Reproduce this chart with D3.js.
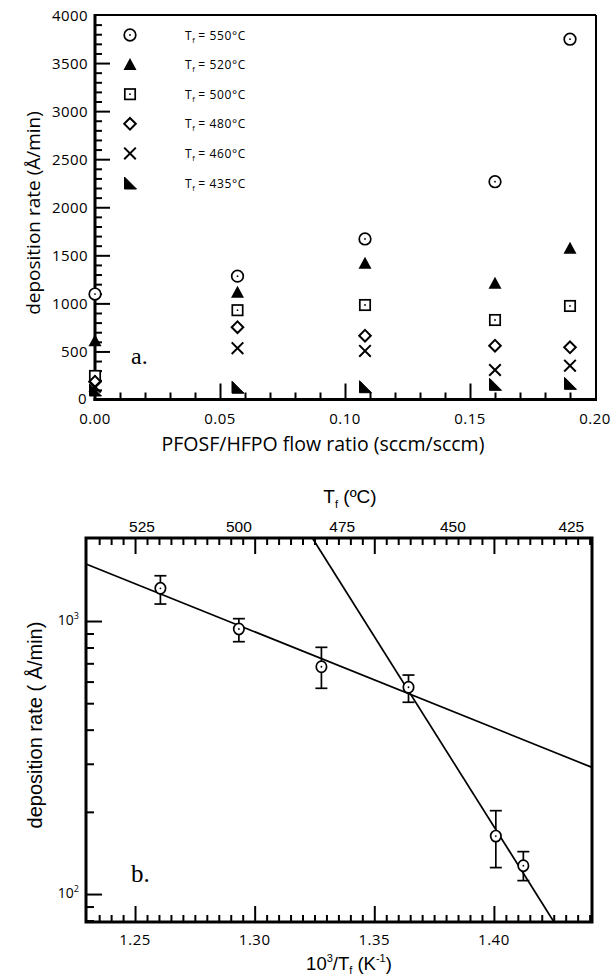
<!DOCTYPE html>
<html><head><meta charset="utf-8">
<script src="https://cdn.jsdelivr.net/npm/d3@7"></script>
<style>body{margin:0;background:#fff}svg{display:block}.ax path.domain{display:none}.ax line{stroke:#000;stroke-width:2px}</style>
</head><body>
<svg id="c" width="616" height="978"></svg>
<script>
// ---------- Panel a data ----------
const flowRatio = [0, 0.057, 0.108, 0.16, 0.19];
const tempLabels = ["550", "520", "500", "480", "460", "435"];
const rate550 = [1097, 1283, 1670, 2266, 3748];
const rate520 = [612, 1117, 1417, 1209, 1573];
const rate500 = [245, 929, 983, 827, 973];
const rate480 = [185, 752, 664, 560, 543];
const rate460 = [133, 534, 505, 307, 352];
const rate435 = [99, 128, 133, 158, 168];
const xTicksA = [0, 0.05, 0.10, 0.15, 0.20];
const yTicksA = [0, 500, 1000, 1500, 2000, 2500, 3000, 3500, 4000];

// ---------- Panel b data ----------
const invT = [1.2606, 1.2934, 1.3279, 1.3643, 1.4008, 1.4123];
const rateB = [1318, 935, 680, 572, 163, 127];
const errHi = [1465, 1020, 801, 634, 202, 143];
const errLo = [1154, 840, 567, 504, 125, 112];
const fitA = [[1.2295, 1618], [1.441, 291]];
const fitB = [[1.3241, 2014], [1.4251, 79]];
const xTicksB = [1.25, 1.30, 1.35, 1.40];
const tempTicks = [525, 500, 475, 450, 425];

const svg = d3.select("#c");
const K = 273.15;
const fA = "'Open Sans', sans-serif";
const fB = "'Liberation Sans', Arial, sans-serif";

// ================= Panel a =================
const A = {l: 95, r: 596, t: 15, b: 399.5};
const xA = d3.scaleLinear().domain([0, 0.2]).range([A.l, 595]);
const yA = d3.scaleLinear().domain([0, 4000]).range([A.b, A.t]);
const gA = svg.append("g");

// inward ticks through d3 axes
const minorXA = d3.range(1, 20).map(k => k / 100).filter(d => Math.abs(d * 20 - Math.round(d * 20)) > 1e-6);
const majorXA = [0.05, 0.10, 0.15];
gA.append("g").attr("class", "ax").attr("transform", `translate(0,${A.b})`)
  .call(d3.axisBottom(xA).tickValues(minorXA).tickSize(-7).tickFormat(""));
gA.append("g").attr("class", "ax").attr("transform", `translate(0,${A.b})`)
  .call(d3.axisBottom(xA).tickValues(majorXA).tickSize(-16).tickFormat(""));
const minorYA = d3.range(1, 40).map(k => k * 100).filter(d => d % 500 !== 0);
const majorYA = d3.range(1, 8).map(k => k * 500);
gA.append("g").attr("class", "ax").attr("transform", `translate(${A.l},0)`)
  .call(d3.axisLeft(yA).tickValues(minorYA).tickSize(-7).tickFormat(""));
gA.append("g").attr("class", "ax").attr("transform", `translate(${A.l},0)`)
  .call(d3.axisLeft(yA).tickValues(majorYA).tickSize(-15).tickFormat(""));

// frame
gA.append("line").attr("x1", A.l).attr("x2", A.r).attr("y1", A.t).attr("y2", A.t).attr("stroke", "#000").attr("stroke-width", 2.2);
gA.append("line").attr("x1", A.r).attr("x2", A.r).attr("y1", A.t).attr("y2", A.b).attr("stroke", "#000").attr("stroke-width", 2);
gA.append("line").attr("x1", A.l).attr("x2", A.l).attr("y1", A.t - 1).attr("y2", A.b + 1.5).attr("stroke", "#000").attr("stroke-width", 3);
gA.append("line").attr("x1", A.l - 1.5).attr("x2", A.r + 1).attr("y1", A.b).attr("y2", A.b).attr("stroke", "#000").attr("stroke-width", 3);

// tick labels
gA.selectAll("text.xl").data(xTicksA).join("text").attr("class", "xl")
  .attr("x", d => xA(d)).attr("y", 424).attr("text-anchor", "middle")
  .attr("font-family", fA).attr("font-size", 15).attr("letter-spacing", 0.4)
  .text(d => d.toFixed(2));
gA.selectAll("text.yl").data(yTicksA).join("text").attr("class", "yl")
  .attr("x", d => d === 0 ? 87 : 88).attr("y", d => yA(d) + 5.5 - (d === 0 ? 1 : 0)).attr("text-anchor", "end")
  .attr("font-family", fA).attr("font-size", 15).attr("letter-spacing", 0.4)
  .text(d => d);

gA.append("text").attr("x", 323).attr("y", 451).attr("text-anchor", "middle")
  .attr("font-family", fA).attr("font-size", 19.5).text("PFOSF/HFPO flow ratio (sccm/sccm)");
gA.append("text").attr("transform", "translate(40,213) rotate(-90)").attr("text-anchor", "middle")
  .attr("font-family", fA).attr("font-size", 19).text("deposition rate (Å/min)");
gA.append("text").attr("x", 131).attr("y", 364).attr("font-family", "'Liberation Serif', serif")
  .attr("font-size", 24).text("a.");

// markers
function marker(g, type) {
  const sw = 1.7;
  if (type === 0) {
    g.append("circle").attr("r", 5.8).attr("fill", "#fff").attr("stroke", "#000").attr("stroke-width", sw);
    g.append("circle").attr("r", 0.9).attr("fill", "#000");
  } else if (type === 1) {
    g.append("path").attr("d", "M0,-6.5L6.5,5.5L-6.5,5.5Z").attr("fill", "#000");
  } else if (type === 2) {
    g.append("rect").attr("x", -5.2).attr("y", -5.2).attr("width", 10.4).attr("height", 10.4)
      .attr("fill", "#fff").attr("stroke", "#000").attr("stroke-width", sw);
    g.append("circle").attr("r", 0.9).attr("fill", "#000");
  } else if (type === 3) {
    g.append("path").attr("d", "M0,-5.8L5.8,0L0,5.8L-5.8,0Z").attr("fill", "#fff").attr("stroke", "#000").attr("stroke-width", 2);
  } else if (type === 4) {
    g.append("path").attr("d", "M-5.8,-5.8L5.8,5.8M5.8,-5.8L-5.8,5.8").attr("stroke", "#000").attr("stroke-width", 2);
  } else {
    g.append("path").attr("d", "M-5.5,-6L-5.5,6L6.5,6Z").attr("fill", "#000").attr("stroke", "#000").attr("stroke-width", 1);
  }
}
const seriesA = [rate550, rate520, rate500, rate480, rate460, rate435];
seriesA.forEach((vals, si) => {
  vals.forEach((v, i) => {
    const g = gA.append("g").attr("transform", `translate(${xA(flowRatio[i])},${yA(v)})`);
    marker(g, si);
  });
});

// legend
tempLabels.forEach((t, i) => {
  const y = 35 + i * 29.6;
  marker(gA.append("g").attr("transform", `translate(130,${y})`), i);
  const tx = gA.append("text").attr("x", 185).attr("y", y + 4.5)
    .attr("font-family", fA).attr("font-size", 12).attr("letter-spacing", 0.6);
  tx.append("tspan").text("T");
  tx.append("tspan").attr("font-size", 7.5).attr("dy", 3).text("f");
  tx.append("tspan").attr("dy", -3).attr("dx", 3).text("= " + t + "°C");
});

// ================= Panel b =================
const B = {l: 86, r: 592, t: 538, b: 922};
const xB = d3.scaleLinear().domain([1.2295, 1.441]).range([B.l, B.r]);
const yB = d3.scaleLog().domain([79, 2014]).range([B.b, B.t]);
const gB = svg.append("g");

const allXB = d3.range(247, 289).map(k => k / 200);
const majorXB = allXB.filter(d => Math.abs(d * 20 - Math.round(d * 20)) < 1e-6);
const minorXB = allXB.filter(d => Math.abs(d * 20 - Math.round(d * 20)) >= 1e-6);
gB.append("g").attr("class", "ax").attr("transform", `translate(0,${B.b})`)
  .call(d3.axisBottom(xB).tickValues(minorXB).tickSize(-7).tickFormat(""));
gB.append("g").attr("class", "ax").attr("transform", `translate(0,${B.b})`)
  .call(d3.axisBottom(xB).tickValues(majorXB).tickSize(-16).tickFormat(""));
gB.append("g").attr("class", "ax").attr("transform", `translate(0,${B.t})`)
  .call(d3.axisTop(xB).tickValues(minorXB).tickSize(-7).tickFormat(""));
gB.append("g").attr("class", "ax").attr("transform", `translate(0,${B.t})`)
  .call(d3.axisTop(xB).tickValues(majorXB).tickSize(-16).tickFormat(""));
const yMinorB = [80, 90, 200, 300, 400, 500, 600, 700, 800, 900];
gB.append("g").attr("class", "ax").attr("transform", `translate(${B.l},0)`)
  .call(d3.axisLeft(yB).tickValues(yMinorB).tickSize(-8).tickFormat(""));
gB.append("g").attr("class", "ax").attr("transform", `translate(${B.l},0)`)
  .call(d3.axisLeft(yB).tickValues([100, 1000]).tickSize(-16).tickFormat(""));

// frame
gB.append("rect").attr("x", B.l).attr("y", B.t).attr("width", B.r - B.l).attr("height", B.b - B.t)
  .attr("fill", "none").attr("stroke", "#000").attr("stroke-width", 3);

// fit lines
const lineB = d3.line().x(d => xB(d[0])).y(d => yB(d[1]));
gB.append("path").attr("d", lineB(fitA)).attr("fill", "none").attr("stroke", "#000").attr("stroke-width", 1.7);
gB.append("path").attr("d", lineB(fitB)).attr("fill", "none").attr("stroke", "#000").attr("stroke-width", 1.7);

// error bars and points
invT.forEach((x, i) => {
  const px = xB(x);
  gB.append("line").attr("x1", px).attr("x2", px).attr("y1", yB(errHi[i])).attr("y2", yB(errLo[i]))
    .attr("stroke", "#000").attr("stroke-width", 1.7);
  [errHi[i], errLo[i]].forEach(v => {
    gB.append("line").attr("x1", px - 6).attr("x2", px + 6).attr("y1", yB(v)).attr("y2", yB(v))
      .attr("stroke", "#000").attr("stroke-width", 1.7);
  });
  gB.append("ellipse").attr("cx", px).attr("cy", yB(rateB[i])).attr("rx", 5.2).attr("ry", 5.6)
    .attr("fill", "#fff").attr("stroke", "#000").attr("stroke-width", 1.7);
  gB.append("circle").attr("cx", px).attr("cy", yB(rateB[i])).attr("r", 0.9).attr("fill", "#000");
});

// labels
gB.selectAll("text.xlb").data(xTicksB).join("text").attr("class", "xlb")
  .attr("x", d => xB(d)).attr("y", 945).attr("text-anchor", "middle")
  .attr("font-family", fA).attr("font-size", 15).attr("letter-spacing", 0.5)
  .text(d => d.toFixed(2));
gB.selectAll("text.tlb").data(tempTicks).join("text").attr("class", "tlb")
  .attr("x", d => xB(1000 / (d + K))).attr("y", 532).attr("text-anchor", "middle")
  .attr("font-family", fB).attr("font-size", 15.5)
  .text(d => d);
[[1000, "3"], [100, "2"]].forEach(([v, e]) => {
  const t = gB.append("text").attr("x", 79).attr("y", yB(v) + 4).attr("text-anchor", "end")
    .attr("font-family", fA).attr("font-size", 14);
  t.append("tspan").text("10");
  t.append("tspan").attr("font-size", 9).attr("dy", -6).text(e);
});

// axis titles
const tt = gB.append("text").attr("x", 350).attr("y", 503).attr("text-anchor", "middle")
  .attr("font-family", fB).attr("font-size", 19);
tt.append("tspan").text("T");
tt.append("tspan").attr("font-size", 11).attr("dy", 5).text("f");
tt.append("tspan").attr("dy", -5).text(" (ºC)");

const bt = gB.append("text").attr("x", 349).attr("y", 970).attr("text-anchor", "middle")
  .attr("font-family", fB).attr("font-size", 18.5);
bt.append("tspan").text("10");
bt.append("tspan").attr("font-size", 11).attr("dy", -8).text("3");
bt.append("tspan").attr("dy", 8).text("/T");
bt.append("tspan").attr("font-size", 11).attr("dy", 4).text("f");
bt.append("tspan").attr("dy", -4).text(" (K");
bt.append("tspan").attr("font-size", 11).attr("dy", -8).text("-1");
bt.append("tspan").attr("dy", 8).text(")");

gB.append("text").attr("transform", "translate(42,725) rotate(-90)").attr("text-anchor", "middle")
  .attr("font-family", fB).attr("font-size", 20).text("deposition rate ( Å/min)");

gB.append("text").attr("x", 131).attr("y", 882).attr("font-family", "'Liberation Serif', serif")
  .attr("font-size", 25).text("b.");
</script>
</body></html>
